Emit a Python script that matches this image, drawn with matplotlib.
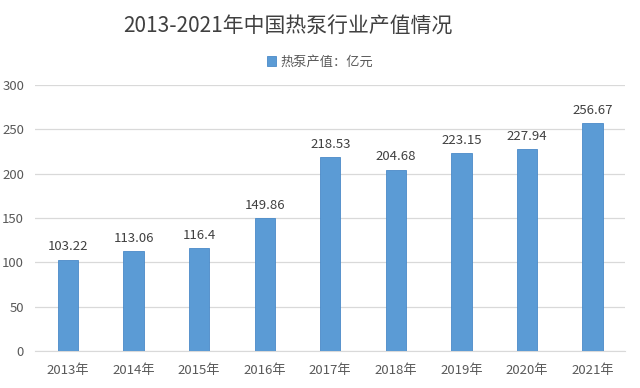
import matplotlib.pyplot as plt
import numpy as np

plt.rcParams["font.family"] = ["Noto Sans CJK SC", "DejaVu Sans"]

years = ["2013年", "2014年", "2015年", "2016年", "2017年", "2018年", "2019年", "2020年", "2021年"]
values = [103.22, 113.06, 116.4, 149.86, 218.53, 204.68, 223.15, 227.94, 256.67]
value_labels = ["103.22", "113.06", "116.4", "149.86", "218.53", "204.68", "223.15", "227.94", "256.67"]
yticks = [0, 50, 100, 150, 200, 250, 300]

bar_color = "#5B9BD5"
text_color = "#595959"

fig = plt.figure(figsize=(6.4, 3.88), dpi=100)
ax = fig.add_axes([0.055, 0.095, 0.922, 0.686])

x = np.arange(len(years))
bars = ax.bar(x, values, width=0.31, color=bar_color, edgecolor="#4A8AC8",
              linewidth=0.6, label="热泵产值：亿元", zorder=3)

for xi, v, lab in zip(x, values, value_labels):
    ax.text(xi, v + 7, lab, ha="center", va="bottom", fontsize=9.5, color="#404040")

ax.set_xlim(-0.5, len(years) - 0.5)
ax.set_ylim(0, 300)
ax.set_yticks(yticks)
ax.set_xticks(x)
ax.set_xticklabels(years)
ax.tick_params(axis="both", length=0, labelsize=9.5, colors=text_color)
ax.tick_params(axis="y", pad=8)
ax.tick_params(axis="x", pad=9)
ax.grid(axis="y", color="#D9D9D9", linewidth=0.9, zorder=0)

for side in ["top", "right", "left"]:
    ax.spines[side].set_visible(False)
ax.spines["bottom"].set_color("#D9D9D9")

fig.text(0.45, 0.93, "2013-2021年中国热泵行业产值情况", ha="center", va="center",
         fontsize=15, color="#404040")
fig.legend(loc="center", bbox_to_anchor=(0.5, 0.84), frameon=False, fontsize=9.5,
           handlelength=0.7, handleheight=0.7, handletextpad=0.3, labelcolor=text_color)

fig.savefig("out.png", dpi=100)
